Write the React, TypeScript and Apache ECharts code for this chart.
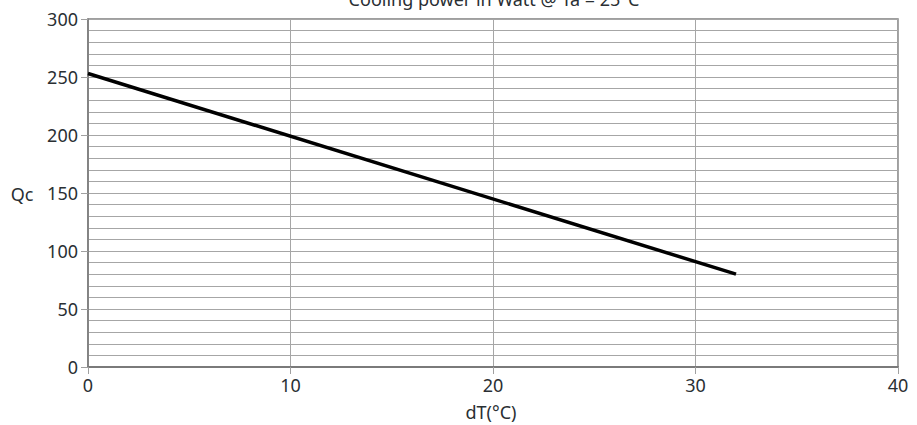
import React, { useEffect, useRef } from "react";
import * as echarts from "echarts";

const dT = [0, 32];
const qc = [253, 80];
const xTicks = [0, 10, 20, 30, 40];
const yTicks = [0, 50, 100, 150, 200, 250, 300];
const title = "Cooling power in Watt @ Ta = 25°C";
const xName = "dT(°C)";
const yName = "Qc";

export default function App() {
  const ref = useRef<HTMLDivElement>(null);
  useEffect(() => {
    document.body.style.margin = "0";
    const chart = echarts.init(ref.current!, null, { renderer: "svg" });
    const font = "'Noto Sans', 'Open Sans', sans-serif";
    const gridColor = "#a6a6a6";
    const textColor = "#2a2f33";
    chart.setOption({
      animation: false,
      backgroundColor: "#ffffff",
      grid: {
        left: 88,
        right: 19,
        top: 19,
        bottom: 58,
        show: true,
        borderColor: "#808080",
        borderWidth: 1.5,
      },
      xAxis: {
        type: "value",
        min: xTicks[0],
        max: xTicks[xTicks.length - 1],
        interval: 10,
        axisLine: { show: true, lineStyle: { color: "#7a7a7a", width: 2 } },
        axisTick: { show: true, length: 7, lineStyle: { color: "#a0a0a0" } },
        axisLabel: { color: textColor, fontSize: 18, fontFamily: font, margin: 9 },
        splitLine: { show: true, lineStyle: { color: gridColor, width: 1 } },
      },
      yAxis: {
        type: "value",
        min: yTicks[0],
        max: yTicks[yTicks.length - 1],
        interval: 50,
        axisLine: { show: true, lineStyle: { color: "#7a7a7a", width: 1.5 } },
        axisTick: { show: true, length: 7, lineStyle: { color: "#a0a0a0" } },
        axisLabel: { color: textColor, fontSize: 18, fontFamily: font, margin: 10 },
        splitLine: { show: true, lineStyle: { color: gridColor, width: 1 } },
        minorTick: { show: false, splitNumber: 5 },
        minorSplitLine: { show: true, lineStyle: { color: gridColor, width: 1 } },
      },
      graphic: [
        {
          type: "text",
          x: 494,
          y: -10,
          style: {
            text: title,
            fontSize: 18,
            fontFamily: font,
            fill: textColor,
            textAlign: "center",
          },
        },
        {
          type: "text",
          x: 22,
          y: 194,
          style: {
            text: yName,
            fontSize: 18,
            fontFamily: font,
            fill: textColor,
            textAlign: "center",
            textVerticalAlign: "middle",
          },
        },
        {
          type: "text",
          x: 491,
          y: 412,
          style: {
            text: xName,
            fontSize: 18,
            fontFamily: font,
            fill: textColor,
            textAlign: "center",
            textVerticalAlign: "middle",
          },
        },
      ],
      series: [
        {
          type: "line",
          data: dT.map((x, i) => [x, qc[i]]),
          showSymbol: false,
          lineStyle: { color: "#000000", width: 3.5 },
        },
      ],
    });
    return () => chart.dispose();
  }, []);
  return <div ref={ref} style={{ width: 917, height: 425 }} />;
}
